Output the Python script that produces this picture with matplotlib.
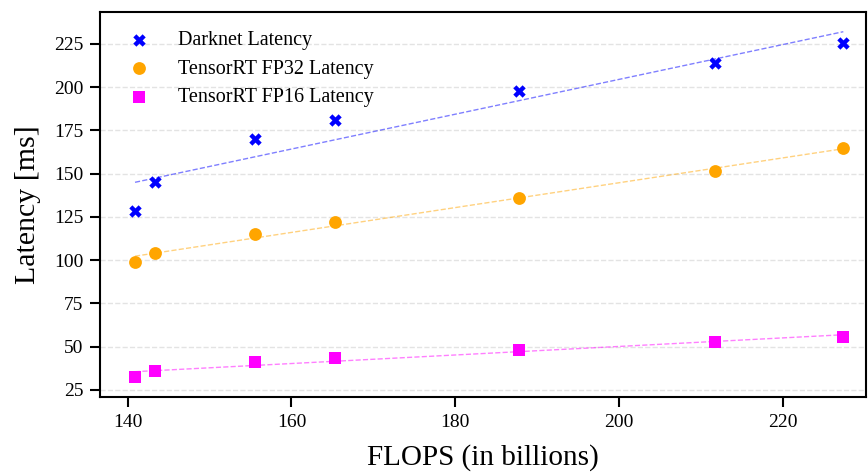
import numpy as np
import matplotlib.pyplot as plt

plt.rcParams['font.family'] = ['Liberation Serif', 'DejaVu Serif']

flops = [140.9, 143.3, 155.5, 165.3, 187.8, 211.7, 227.4]
darknet = [128.4, 144.9, 169.9, 181.0, 198.0, 214.1, 225.7]
trt_fp32 = [99.2, 104.0, 115.0, 122.2, 135.7, 151.4, 164.9]
trt_fp16 = [32.3, 35.9, 41.1, 43.4, 48.3, 52.9, 55.5]

fig = plt.figure(figsize=(8.68, 4.73), dpi=100)
ax = fig.add_axes([0.115, 0.161, 0.883, 0.814])

x = np.array(flops)
series = [
    (darknet, "Darknet Latency", "blue", "X", 80),
    (trt_fp32, "TensorRT FP32 Latency", "orange", "o", 85),
    (trt_fp16, "TensorRT FP16 Latency", "magenta", "s", 68),
]
for y, label, color, marker, size in series:
    ax.scatter(x, y, color=color, marker=marker, s=size, label=label, zorder=3, linewidths=0)
    # linear trend line over the measured range
    m, b = np.polyfit(x, y, 1)
    ax.plot([x.min(), x.max()], [m * x.min() + b, m * x.max() + b],
            linestyle="--", color=color, alpha=0.5, linewidth=1, zorder=2)

ax.set_xlim(136.6, 230.2)
ax.set_ylim(21, 243.5)
ax.set_xticks([140, 160, 180, 200, 220])
ax.set_yticks([25, 50, 75, 100, 125, 150, 175, 200, 225])
ax.yaxis.grid(True, linestyle="--", color="#e3e3e3", linewidth=1)
ax.set_axisbelow(True)
ax.tick_params(labelsize=14, length=7, width=1.5, direction="out", pad=5)
for s in ax.spines.values():
    s.set_linewidth(1.5)

ax.set_xlabel("FLOPS (in billions)", fontsize=21, labelpad=10)
ax.set_ylabel("Latency [ms]", fontsize=21.5, labelpad=9)
ax.legend(loc="upper left", bbox_to_anchor=(0.007, 0.987), frameon=False, fontsize=14.5,
          handletextpad=0.9, borderaxespad=0.3, labelspacing=0.47)

fig.savefig("out.png", dpi=100)
